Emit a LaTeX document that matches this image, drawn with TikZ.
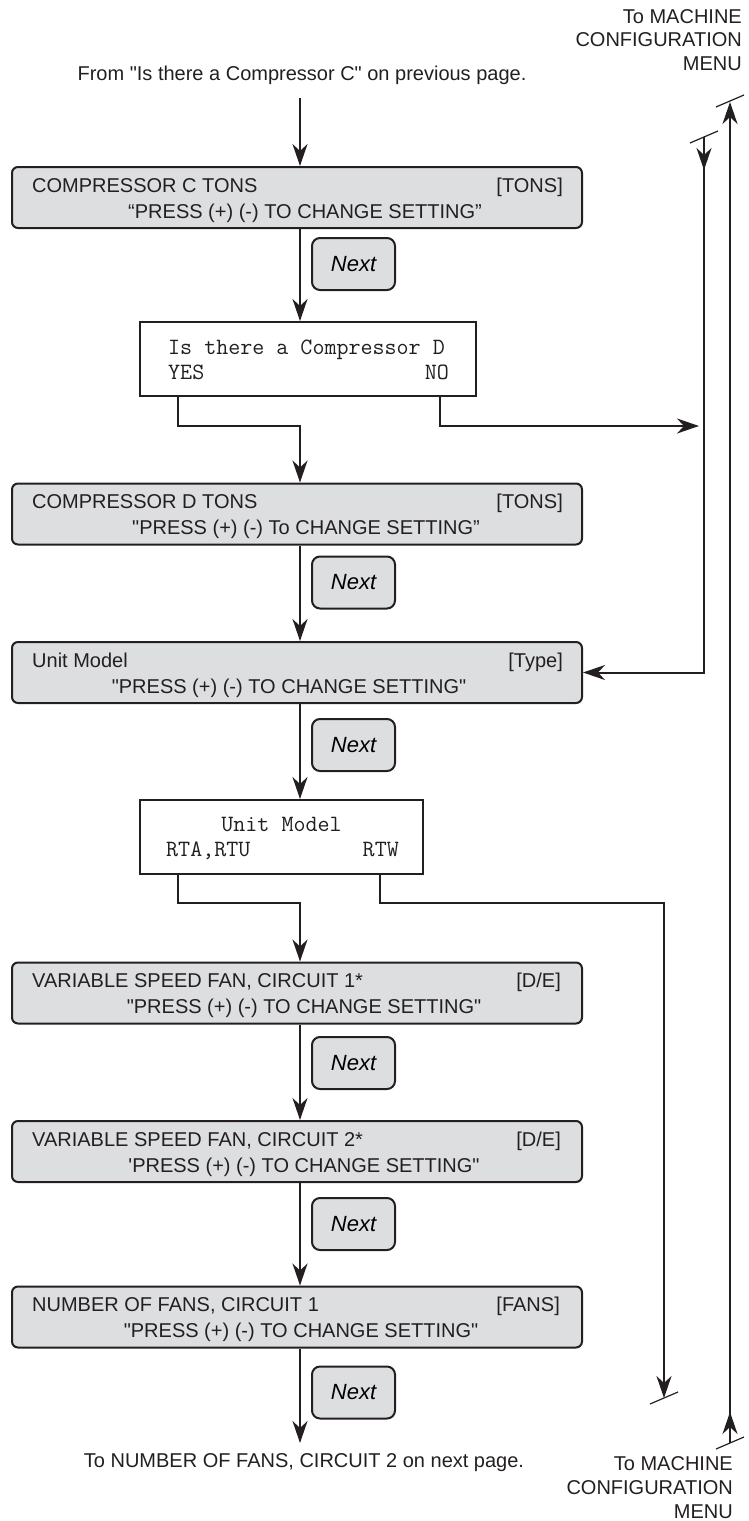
\documentclass[tikz,border=0pt]{standalone}
\usepackage{fontspec}
\newfontfamily\labfont{Liberation Sans}
\usetikzlibrary{arrows.meta}

\definecolor{ink}{RGB}{35,31,32}
\definecolor{boxgray}{RGB}{221,222,224}

\tikzset{
  gbox/.style={draw=ink, line width=2pt, fill=boxgray, rounded corners=6pt,
    minimum width=570pt, minimum height=61pt, inner sep=0pt},
  nbox/.style={draw=ink, line width=2pt, fill=boxgray, rounded corners=8pt,
    minimum width=83pt, minimum height=52pt, inner sep=0pt,
    font=\labfont\itshape\fontsize{22}{26}\selectfont},
  qbox/.style={draw=ink, line width=2pt, fill=white, minimum height=74pt, inner sep=0pt},
  lbl/.style={font=\labfont\fontsize{20}{24}\selectfont, inner sep=0pt, text=ink},
  qlbl/.style={font=\ttfamily\fontsize{23.35}{26}\selectfont, inner sep=0pt, text=ink},
  arr/.style={draw=ink, line width=2pt, -{Stealth[length=22pt,width=15pt,inset=7pt]}},
  cut/.pic={\draw[ink, line width=1.2pt] (-14,-6) -- (14,6);}
}

\begin{document}
\begin{tikzpicture}[x=1pt, y=1pt]
  \useasboundingbox (0,0) rectangle (748,-1521);

  % Page references
  \node[lbl, anchor=base east] (cfg1) at (742,-23) {To MACHINE};
  \node[lbl, anchor=base east] (cfg2) at (742,-46.5) {CONFIGURATION};
  \node[lbl, anchor=base east] (cfg3) at (742,-70) {MENU};
  \node[lbl, anchor=base] (from) at (302,-80) {From "Is there a Compressor C" on previous page.};

  % Compressor C
  \node[gbox] (b1) at (297,-197.5) {};
  \node[lbl, anchor=base west] (b1a) at (32,-192) {COMPRESSOR C TONS};
  \node[lbl, anchor=base east] (b1b) at (563,-192) {[TONS]};
  \node[lbl, anchor=base] (b1c) at (305,-218) {“PRESS (+) (-) TO CHANGE SETTING”};
  \node[nbox] (n1) at (353.5,-264) {Next};

  % Compressor D question
  \node[qbox, minimum width=336pt] (q1) at (308,-359) {};
  \node[qlbl, anchor=base west] (q1a) at (168,-354) {Is there a Compressor D};
  \node[qlbl, anchor=base west] (q1b) at (168,-379) {YES};
  \node[qlbl, anchor=base east] (q1c) at (449,-379) {NO};

  % Compressor D
  \node[gbox] (b2) at (297,-514) {};
  \node[lbl, anchor=base west] (b2a) at (32,-508.5) {COMPRESSOR D TONS};
  \node[lbl, anchor=base east] (b2b) at (563,-508.5) {[TONS]};
  \node[lbl, anchor=base] (b2c) at (306,-534.5) {"PRESS (+) (-) To CHANGE SETTING”};
  \node[nbox] (n2) at (353.5,-582.5) {Next};

  % Unit model
  \node[gbox] (b3) at (297,-672.5) {};
  \node[lbl, anchor=base west] (b3a) at (32,-667) {Unit Model};
  \node[lbl, anchor=base east] (b3b) at (563,-667) {[Type]};
  \node[lbl, anchor=base] (b3c) at (289,-693) {"PRESS (+) (-) TO CHANGE SETTING"};
  \node[nbox] (n3) at (353.5,-745) {Next};

  % Unit model question
  \node[qbox, minimum width=283pt] (q2) at (281.5,-837) {};
  \node[qlbl, anchor=base] (q2a) at (281.5,-831) {Unit Model};
  \node[qlbl, anchor=base west] (q2b) at (166,-856) {RTA,RTU};
  \node[qlbl, anchor=base east] (q2c) at (399,-856) {RTW};

  % Fans
  \node[gbox] (b4) at (297,-993) {};
  \node[lbl, anchor=base west] (b4a) at (32,-987.5) {VARIABLE SPEED FAN, CIRCUIT 1*};
  \node[lbl, anchor=base east] (b4b) at (561,-987.5) {[D/E]};
  \node[lbl, anchor=base] (b4c) at (304,-1013.5) {"PRESS (+) (-) TO CHANGE SETTING"};
  \node[nbox] (n4) at (353.5,-1063) {Next};

  \node[gbox] (b5) at (297,-1151.5) {};
  \node[lbl, anchor=base west] (b5a) at (32,-1146) {VARIABLE SPEED FAN, CIRCUIT 2*};
  \node[lbl, anchor=base east] (b5b) at (561,-1146) {[D/E]};
  \node[lbl, anchor=base] (b5c) at (304,-1172) {'PRESS (+) (-) TO CHANGE SETTING"};
  \node[nbox] (n5) at (353.5,-1224) {Next};

  \node[gbox] (b6) at (297,-1317) {};
  \node[lbl, anchor=base west] (b6a) at (32,-1311.5) {NUMBER OF FANS, CIRCUIT 1};
  \node[lbl, anchor=base east] (b6b) at (560,-1311.5) {[FANS]};
  \node[lbl, anchor=base] (b6c) at (301,-1337.5) {"PRESS (+) (-) TO CHANGE SETTING"};
  \node[nbox] (n6) at (353.5,-1392.5) {Next};

  \node[lbl, anchor=base] (to) at (304,-1467) {To NUMBER OF FANS, CIRCUIT 2 on next page.};
  \node[lbl, anchor=base east] (cfg4) at (733,-1470) {To MACHINE};
  \node[lbl, anchor=base east] (cfg5) at (733,-1494.5) {CONFIGURATION};
  \node[lbl, anchor=base east] (cfg6) at (733,-1518) {MENU};

  % Free ends of the connectors
  \coordinate (start) at (300,-98);
  \coordinate (finish) at (300,-1443);
  \coordinate (yes1) at (178,-426);
  \coordinate (no1) at (440,-426);
  \coordinate (yes2) at (178,-903);
  \coordinate (no2) at (380,-903);
  \coordinate (r1top) at (704,-137);
  \coordinate (r1mid) at (704,-170);
  \coordinate (r2top) at (730,-102);
  \coordinate (r2bot) at (730,-1443);
  \coordinate (r2mid) at (730,-1412);
  \coordinate (r3end) at (664,-1398);

  % Main flow
  \draw[arr] (start) -- (b1.north -| start);
  \draw[arr] (b1.south -| start) -- (q1.north -| start);
  \draw[arr] (q1.south -| yes1) -- (yes1) -| (b2.north -| start);
  \draw[arr, shorten >=5pt] (q1.south -| no1) -- (no1) -- (no1 -| r1top);
  \draw[arr] (b2.south -| start) -- (b3.north -| start);
  \draw[arr] (b3.south -| start) -- (q2.north -| start);
  \draw[arr] (q2.south -| yes2) -- (yes2) -| (b4.north -| start);
  \draw[arr] (q2.south -| no2) -- (no2) -| (r3end);
  \draw[arr] (b4.south -| start) -- (b5.north -| start);
  \draw[arr] (b5.south -| start) -- (b6.north -| start);
  \draw[arr] (b6.south -| start) -- (finish);

  % Return lines on the right
  \draw[arr] (r1top) |- (b3.east);
  \draw[arr] (r1top) -- (r1mid);
  \draw[arr] (r2bot) -- (r2top);
  \draw[arr] (r2bot) -- (r2mid);
  \pic at (r1top) {cut};
  \pic at (730,-101) {cut};
  \pic at (r2bot) {cut};
  \pic at (r3end) {cut};
\end{tikzpicture}
\end{document}
